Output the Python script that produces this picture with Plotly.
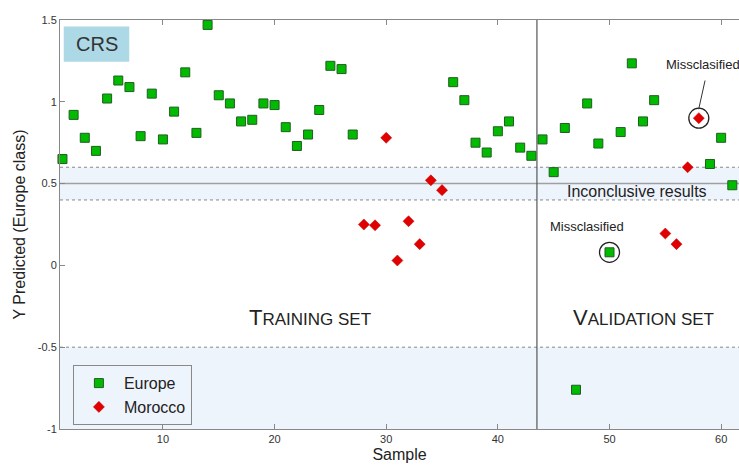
import plotly.graph_objects as go

# ---- data ----
europe_x = [1, 2, 3, 4, 5, 6, 7, 8, 9, 10, 11, 12, 13, 14, 15, 16, 17, 18, 19, 20,
            21, 22, 23, 24, 25, 26, 27, 36, 37, 38, 39, 40, 41, 42, 43,
            44, 45, 46, 47, 48, 49, 50, 51, 52, 53, 54, 59, 60, 61]
europe_y = [0.65, 0.92, 0.78, 0.70, 1.02, 1.13, 1.09, 0.79, 1.05, 0.77, 0.94, 1.18, 0.81,
            1.47, 1.04, 0.99, 0.88, 0.89, 0.99, 0.98, 0.845, 0.73, 0.80, 0.95, 1.22, 1.20,
            0.80, 1.12, 1.01, 0.75, 0.69, 0.82, 0.88, 0.72, 0.67,
            0.77, 0.57, 0.84, -0.76, 0.99, 0.745, 0.08, 0.815, 1.235, 0.88, 1.01, 0.62, 0.78, 0.49]
morocco_x = [28, 29, 30, 31, 32, 33, 34, 35, 55, 56, 57, 58]
morocco_y = [0.25, 0.245, 0.78, 0.03, 0.27, 0.13, 0.52, 0.46, 0.195, 0.13, 0.60, 0.90]
miscl_x = [50, 58]
miscl_y = [0.08, 0.90]

band_low, band_high, band_mid = 0.4, 0.6, 0.5
lower_limit = -0.5
split_x = 43.5
x_range = [0.78, 61.6]
y_range = [-1, 1.5]
x_ticks = [10, 20, 30, 40, 50, 60]
y_ticks = [-1, -0.5, 0, 0.5, 1, 1.5]
y_ticktext = ["-1", "-0.5", "0", "0.5", "1", "1.5"]

FONT = "Liberation Sans, Arial, sans-serif"
REGION = "#EEF4FC"

fig = go.Figure()
fig.add_trace(go.Scatter(
    x=europe_x, y=europe_y, mode="markers", name="Europe", cliponaxis=False,
    marker=dict(symbol="square", size=9, color="#00BB00",
                line=dict(color="#1F5F1F", width=1))))
fig.add_trace(go.Scatter(
    x=morocco_x, y=morocco_y, mode="markers", name="Morocco", cliponaxis=False,
    marker=dict(symbol="diamond", size=8.5, color="#E00000",
                line=dict(color="#C00000", width=0.5))))
fig.add_trace(go.Scatter(
    x=miscl_x, y=miscl_y, mode="markers", showlegend=False, cliponaxis=False,
    marker=dict(symbol="circle-open", size=20, color="#222",
                line=dict(color="#222", width=1.3))))

x_end = x_range[1] + 5
shapes = [
    dict(type="rect", xref="x", yref="y", x0=x_range[0], x1=x_end,
         y0=band_low, y1=band_high, fillcolor=REGION, line_width=0, layer="below"),
    dict(type="rect", xref="x", yref="y", x0=x_range[0], x1=x_end,
         y0=y_range[0], y1=lower_limit, fillcolor=REGION, line_width=0, layer="below"),
]
for yv in (band_low, band_high, lower_limit):
    shapes.append(dict(type="line", xref="x", yref="y", x0=x_range[0], x1=x_end,
                       y0=yv, y1=yv, line=dict(color="#888", width=1, dash="dot"), layer="below"))
shapes.append(dict(type="line", xref="x", yref="y", x0=x_range[0], x1=x_end,
                   y0=band_mid, y1=band_mid, line=dict(color="#A0A0A0", width=1.5), layer="below"))
shapes.append(dict(type="line", xref="x", yref="y", x0=split_x, x1=split_x,
                   y0=y_range[0], y1=y_range[1], line=dict(color="#555", width=1.2), layer="below"))
# leader line for upper misclassified label
shapes.append(dict(type="line", xref="x", yref="y", x0=58.56, x1=57.99, y0=1.13, y1=0.955,
                   line=dict(color="#333", width=1)))
# CRS label box
shapes.append(dict(type="rect", xref="paper", yref="paper", x0=0.0055, x1=0.102,
                   y0=0.898, y1=0.984, fillcolor="#ADD8E6", line_width=0, layer="below"))

annotations = [
    dict(x=0.054, y=0.941, xref="paper", yref="paper", text="CRS", showarrow=False,
         xanchor="center", yanchor="middle",
         font=dict(family=FONT, size=20, color="#333")),
    dict(x=23.2, y=-0.32, text="T<span style='font-size:17px'>RAINING SET</span>",
         showarrow=False, xanchor="center", yanchor="middle",
         font=dict(family=FONT, size=22, color="#222")),
    dict(x=53.05, y=-0.32, text="V<span style='font-size:17px'>ALIDATION SET</span>",
         showarrow=False, xanchor="center", yanchor="middle",
         font=dict(family=FONT, size=22, color="#222")),
    dict(x=52.5, y=0.45, text="Inconclusive results", showarrow=False,
         xanchor="center", yanchor="middle",
         font=dict(family=FONT, size=16, color="#222")),
    dict(x=48.0, y=0.235, text="Missclasified", showarrow=False,
         xanchor="center", yanchor="middle",
         font=dict(family=FONT, size=13, color="#222")),
    dict(x=54.85, y=1.225, text="Missclasified", showarrow=False, xanchor="left",
         yanchor="middle", font=dict(family=FONT, size=13, color="#222")),
]

fig.update_layout(
    width=739, height=465,
    margin=dict(l=60, r=0, t=20, b=36),
    paper_bgcolor="white", plot_bgcolor="white",
    font=dict(family=FONT, color="#333"),
    shapes=shapes, annotations=annotations,
    showlegend=True,
    legend=dict(x=0.019, y=0.156, xanchor="left", yanchor="top",
                bgcolor="rgba(0,0,0,0)", bordercolor="#888", borderwidth=1,
                font=dict(family=FONT, size=16, color="#222"),
                itemsizing="trace", itemwidth=40, tracegroupgap=2),
)
fig.update_xaxes(range=x_range, tickvals=x_ticks, showgrid=False, zeroline=False,
                 showline=True, linecolor="#888", linewidth=1, mirror="ticks",
                 ticks="inside", ticklen=5, tickcolor="#888",
                 tickfont=dict(family=FONT, size=11, color="#333"),
                 title=dict(text="Sample", standoff=4,
                            font=dict(family=FONT, size=16, color="#222")))
fig.update_yaxes(range=y_range, tickvals=y_ticks, ticktext=y_ticktext, showgrid=False,
                 zeroline=False, showline=True, linecolor="#888", linewidth=1,
                 ticks="inside", ticklen=5, tickcolor="#888",
                 tickfont=dict(family=FONT, size=11, color="#333"),
                 title=dict(text="Y Predicted (Europe class)", standoff=8,
                            font=dict(family=FONT, size=16, color="#222")))

fig.write_html("out.html")
